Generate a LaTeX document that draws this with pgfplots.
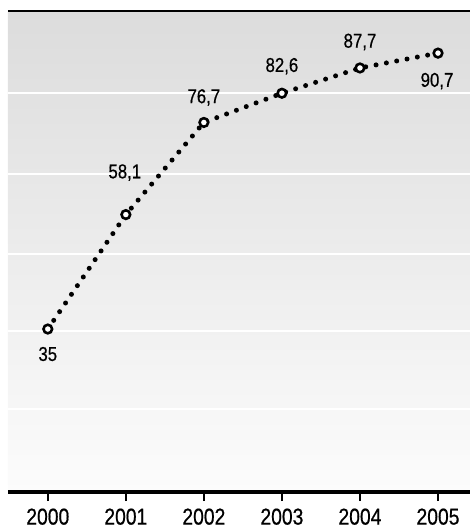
\documentclass[border=0pt]{standalone}
\usepackage{pgfplots}
\pgfplotsset{compat=1.18}
\usepackage{fontspec}
\setmainfont{Liberation Sans}[FakeStretch=0.84, FakeBold=0.6]
\definecolor{bgtop}{RGB}{220,220,220}
\definecolor{bgbot}{RGB}{252,252,252}
\begin{document}
\begin{tikzpicture}
\useasboundingbox (0pt,0pt) rectangle (470pt,531pt);
\begin{axis}[
  at={(8pt,39pt)}, anchor=south west,
  scale only axis, width=462pt, height=481pt,
  xmin=1999.49, xmax=2005.41,
  ymin=2.1, ymax=99.2,
  axis line style={draw=none},
  axis background/.style={top color=bgtop, bottom color=bgbot},
  xtick={2000,2001,2002,2003,2004,2005},
  xticklabels={2000,2001,2002,2003,2004,2005},
  xtick pos=bottom,
  xtick align=outside,
  x tick style={black, line width=2pt},
  major tick length=9pt,
  xticklabel style={font=\fontsize{23}{23}\selectfont, yshift=-4pt},
  ytick={18.85,34.6,50.1,66.3,82.6},
  yticklabels={},
  y tick style={draw=none},
  ymajorgrids,
  grid style={white, line width=2pt},
  clip=false,
]
\addplot[black, line width=5pt, line cap=round, dash pattern=on 0pt off 10.5pt,
  mark=*, mark size=4.3pt,
  mark options={solid, fill=white, draw=black, line width=2.6pt}]
  coordinates {(2000,35) (2001,58.1) (2002,76.7) (2003,82.6) (2004,87.7) (2005,90.7)};
\draw[black, line width=4pt] (rel axis cs:0,0) -- (rel axis cs:1,0);
\draw[black, line width=2pt] (rel axis cs:0,1) -- (rel axis cs:1,1);
\begin{scope}[every node/.style={font=\fontsize{20}{20}\selectfont}]
\node at (axis cs:2000,35) [yshift=-25pt] {35};
\node at (axis cs:2001,58.1) [yshift=42pt, xshift=-1pt] {58,1};
\node at (axis cs:2002,76.7) [yshift=25pt] {76,7};
\node at (axis cs:2003,82.6) [yshift=27pt] {82,6};
\node at (axis cs:2004,87.7) [yshift=26pt] {87,7};
\node at (axis cs:2005,90.7) [yshift=-28pt, xshift=-1pt] {90,7};
\end{scope}
\end{axis}
\end{tikzpicture}
\end{document}
